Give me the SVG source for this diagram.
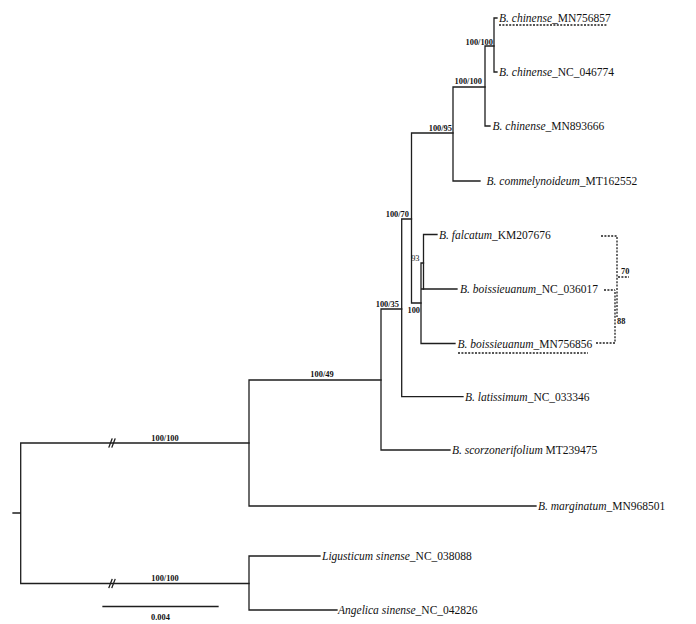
<svg xmlns="http://www.w3.org/2000/svg" width="696" height="624" viewBox="0 0 696 624">
<style>
.br{stroke:#1e1e1e;stroke-width:1.3;fill:none;stroke-linecap:square}
.ds{stroke:#1e1e1e;stroke-width:1.3;fill:none;stroke-dasharray:2 1.4}
.lf{font-family:"Liberation Serif","Times New Roman",serif;font-size:11.5px;fill:#111}
.it{font-style:italic}
.bs{font-family:"Liberation Serif","Times New Roman",serif;font-size:8.4px;font-weight:bold;fill:#111}
.bn{font-family:"Liberation Serif","Times New Roman",serif;font-size:8.4px;fill:#111}
</style>
<rect width="696" height="624" fill="#fff"/>
<g id="connectors">
<path class="br" d="M13,513H20.7M20.7,443V583.5M20.7,443H249M20.7,583.5H249"/>
<path class="br" d="M249,380V506M249,380H381M249,506H536"/>
<path class="br" d="M249,556V610M249,556H320M249,610H337"/>
<path class="br" d="M381,309V450M381,309H401.7M381,450H450"/>
<path class="br" d="M401.7,219V396.7M401.7,219H411.5M401.7,396.7H463"/>
<path class="br" d="M411.5,133V303M411.5,133H453M411.5,303H421"/>
<path class="br" d="M421,263V343.5M421,263H423.5M421,289H457M421,343.5H455"/>
<path class="br" d="M423.5,234.5V289M423.5,234.5H437"/>
<path class="br" d="M453,87V181M453,87H485M453,181H480"/>
<path class="br" d="M485,46V126M485,46H494M485,126H490"/>
<path class="br" d="M494,18V72M494,18H497M494,72H497"/>
<path class="br" d="M109,447L112,439M112,447L115,439M109,587.5L112,579.5M112,587.5L115,579.5" stroke-width="1.2"/>
<path class="br" d="M103,606.5H218"/>
<path class="ds" d="M499,25H607M458,353H588"/>
<path class="ds" d="M601,236H617V317M604,290H615M596,343H615V290M618,277H629"/>
</g>
<g id="leaf-MN756857"><text class="lf" x="499" y="22"><tspan class="it">B. chinense</tspan>_MN756857</text></g>
<g id="leaf-NC_046774"><text class="lf" x="499" y="76"><tspan class="it">B. chinense</tspan>_NC_046774</text></g>
<g id="leaf-MN893666"><text class="lf" x="492.5" y="130"><tspan class="it">B. chinense</tspan>_MN893666</text></g>
<g id="leaf-MT162552"><text class="lf" x="486.5" y="185"><tspan class="it">B. commelynoideum</tspan>_MT162552</text></g>
<g id="leaf-KM207676"><text class="lf" x="439" y="238.5"><tspan class="it">B. falcatum</tspan>_KM207676</text></g>
<g id="leaf-NC_036017"><text class="lf" x="460" y="293"><tspan class="it">B. boissieuanum</tspan>_NC_036017</text></g>
<g id="leaf-MN756856"><text class="lf" x="457.5" y="347.5"><tspan class="it">B. boissieuanum</tspan>_MN756856</text></g>
<g id="leaf-NC_033346"><text class="lf" x="465" y="400.7"><tspan class="it">B. latissimum</tspan>_NC_033346</text></g>
<g id="leaf-MT239475"><text class="lf" x="452" y="454"><tspan class="it">B. scorzonerifolium</tspan> MT239475</text></g>
<g id="leaf-MN968501"><text class="lf" x="538" y="510"><tspan class="it">B. marginatum</tspan>_MN968501</text></g>
<g id="leaf-NC_038088"><text class="lf" x="322" y="560"><tspan class="it">Ligusticum sinense</tspan>_NC_038088</text></g>
<g id="leaf-NC_042826"><text class="lf" x="338" y="614"><tspan class="it">Angelica sinense</tspan>_NC_042826</text></g>
<g id="support">
<text class="bs" x="493" y="44.5" text-anchor="end">100/100</text>
<text class="bs" x="482" y="84" text-anchor="end">100/100</text>
<text class="bs" x="452" y="131" text-anchor="end">100/95</text>
<text class="bs" x="409" y="216.5" text-anchor="end">100/70</text>
<text class="bs" x="399" y="306.5" text-anchor="end">100/35</text>
<text class="bs" x="322" y="377" text-anchor="middle">100/49</text>
<text class="bs" x="165" y="441" text-anchor="middle">100/100</text>
<text class="bs" x="165" y="581" text-anchor="middle">100/100</text>
<text class="bn" x="419.5" y="260.5" text-anchor="end">93</text>
<text class="bs" x="420" y="313" text-anchor="end">100</text>
<text class="bs" x="621" y="274">70</text>
<text class="bs" x="617" y="323.5">88</text>
<text class="bs" x="160.5" y="619.5" text-anchor="middle">0.004</text>
</g>
</svg>
